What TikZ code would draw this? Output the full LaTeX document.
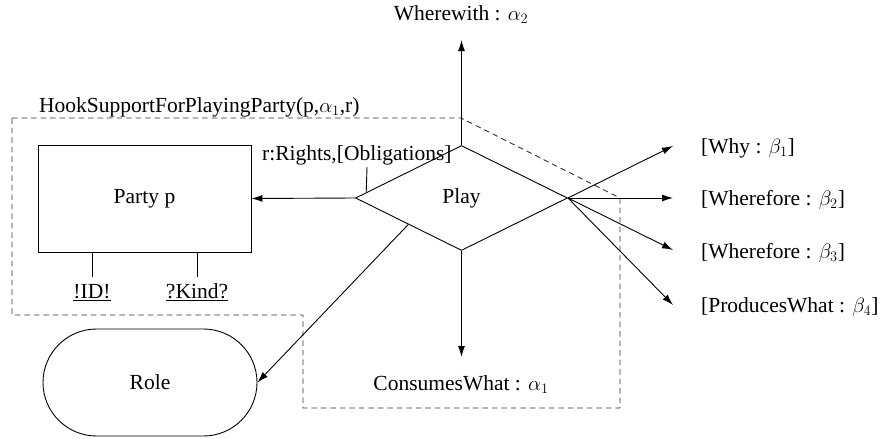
\documentclass[tikz,border=0pt]{standalone}
\usepackage{fontspec}
\setmainfont{Liberation Serif}
\usetikzlibrary{shapes.geometric,shapes.misc,arrows.meta,calc}
\begin{document}
\begin{tikzpicture}[x=1pt,y=-1pt,
  every node/.style={font=\fontsize{21.5}{25}\selectfont},
  ln/.style={line width=0.9pt},
  arr/.style={ln,-{Latex[length=11pt,width=7pt]}},
  dsh/.style={line width=0.9pt,black!80,dash pattern=on 5.5pt off 4pt},
  lbl/.style={inner sep=0pt}]
\useasboundingbox (0,0) rectangle (881,439);
% dashed hook region
\draw[dsh] (12,118) -- (461,118) -- (620,198) -- (620,408) -- (303,408) -- (303,315) -- (12,315) -- cycle;
% nodes
\node[draw,ln,diamond,aspect=2,inner sep=0pt,minimum width=212pt,minimum height=105pt] (play) at (461.5,198) {Play};
\node[draw,ln,rectangle,minimum width=213pt,minimum height=107pt,inner sep=0pt] (party) at (144.5,198.5) {Party p};
\node[draw,ln,rounded rectangle,minimum width=214pt,minimum height=107pt,inner sep=0pt] (role) at (150,382.5) {Role};
\node[lbl,anchor=base] (wherewith) at (461,20) {Wherewith : $\alpha_2$};
\node[lbl,anchor=base west] (hook) at (39,112) {HookSupportForPlayingParty(p,$\alpha_1$,r)};
\node[lbl,anchor=base west] (rights) at (262,160) {r:Rights,[Obligations]};
\node[lbl,anchor=base] (id) at (92,298) {\underline{!ID!}};
\node[lbl,anchor=base] (kind) at (197,298) {\underline{?Kind?}};
\node[lbl,anchor=base] (consumes) at (461,390) {ConsumesWhat : $\alpha_1$};
\node[lbl,anchor=base west] (why) at (701,153) {[Why : $\beta_1$]};
\node[lbl,anchor=base west] (wf2) at (701,205) {[Wherefore : $\beta_2$]};
\node[lbl,anchor=base west] (wf3) at (701,258) {[Wherefore : $\beta_3$]};
\node[lbl,anchor=base west] (pw) at (701,312) {[ProducesWhat : $\beta_4$]};
% coordinates
\coordinate (upTip) at (461.5,40);
\coordinate (downTip) at (461.5,357);
\coordinate (t1) at (673,146);
\coordinate (t2) at (673,198);
\coordinate (t3) at (673,250);
\coordinate (t4) at (673,305);
\coordinate (tickTop) at (367,167);
\coordinate (tickBot) at ($(play.west)!0.105!(play.north)$);
\coordinate (idTop) at (92,252);
\coordinate (idBot) at (92,277);
\coordinate (kindTop) at (197,252);
\coordinate (kindBot) at (197,277);
% connectors
\draw[arr] (play.north) -- (upTip);
\draw[arr] (play.south) -- (downTip);
\draw[arr] (play.west) -- (party.east);
\draw[ln] (tickTop) -- (tickBot);
\draw[ln] (idTop) -- (idBot);
\draw[ln] (kindTop) -- (kindBot);
\draw[arr] ($(play.west)!0.5!(play.south)$) -- (role.east);
\draw[arr] (play.east) -- (t1);
\draw[arr] (play.east) -- (t2);
\draw[arr] (play.east) -- (t3);
\draw[arr] (play.east) -- (t4);
\end{tikzpicture}
\end{document}
